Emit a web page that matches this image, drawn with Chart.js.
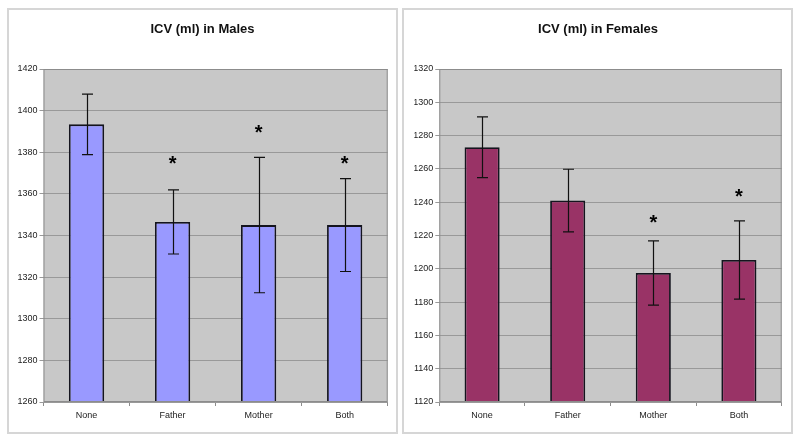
<!DOCTYPE html>
<html lang="en">
<head>
    <meta charset="UTF-8">
    <title>ICV (ml) by parent</title>
    <script src="https://cdn.jsdelivr.net/npm/chart.js"></script>
    <style>
        body { margin: 0; background: #fff; width: 800px; height: 442px; position: relative; overflow: hidden; }
        .panel { position: absolute; top: 8px; height: 426px; border: 2px solid #d6d6d6; box-sizing: border-box; background: #fff; }
        .wrap { position: absolute; top: 0; width: 400px; height: 442px; }
    </style>
</head>
<body>
    <div class="panel" style="left:7px; width:391px;"></div>
    <div class="panel" style="left:402px; width:391px;"></div>
    <div class="wrap" style="left:0;"><canvas id="malesChart"></canvas></div>
    <div class="wrap" style="left:400px;"><canvas id="femalesChart"></canvas></div>

    <script>
        const categories = ['None', 'Father', 'Mother', 'Both'];

        const malesMean = [1393.4, 1346.5, 1345, 1345];
        const malesErr = [14.5, 15.4, 32.5, 22.3];
        const malesStar = [null, 1375.9, 1390.7, 1375.9];
        const malesTicks = [1260, 1420];

        const femalesMean = [1273, 1241, 1197.5, 1205.3];
        const femalesErr = [18.2, 18.8, 19.3, 23.5];
        const femalesStar = [null, null, 1229.9, 1245.3];
        const femalesTicks = [1120, 1320];

        // grey plot area, like the spreadsheet default
        const plotBg = {
            id: 'plotBg',
            beforeDraw(chart) {
                const a = chart.chartArea, ctx = chart.ctx;
                ctx.save();
                ctx.fillStyle = '#c8c8c8';
                ctx.fillRect(a.left, a.top, a.right - a.left, a.bottom - a.top);
                ctx.restore();
            },
            afterDraw(chart) {
                const a = chart.chartArea, ctx = chart.ctx;
                ctx.save();
                ctx.strokeStyle = '#8c8c8c';
                ctx.lineWidth = 1;
                ctx.strokeRect(a.left + 0.5, a.top + 0.5, a.right - a.left - 1, a.bottom - a.top - 1);
                ctx.restore();
            }
        };

        // error bars and significance stars
        const errorBars = {
            id: 'errorBars',
            afterDatasetsDraw(chart, args, opts) {
                const ctx = chart.ctx;
                const y = chart.scales.y;
                const meta = chart.getDatasetMeta(0);
                ctx.save();
                ctx.strokeStyle = '#111';
                ctx.lineWidth = 1.2;
                meta.data.forEach((bar, i) => {
                    const m = opts.mean[i], e = opts.err[i];
                    const x = Math.round(bar.x) + 0.5;
                    const yt = y.getPixelForValue(m + e);
                    const yb = y.getPixelForValue(m - e);
                    ctx.beginPath();
                    ctx.moveTo(x, yt); ctx.lineTo(x, yb);
                    ctx.moveTo(x - 5.5, yt); ctx.lineTo(x + 5.5, yt);
                    ctx.moveTo(x - 5.5, yb); ctx.lineTo(x + 5.5, yb);
                    ctx.stroke();
                    if (opts.star[i] != null) {
                        ctx.fillStyle = '#000';
                        ctx.font = 'bold 20px "Liberation Sans", Arial, sans-serif';
                        ctx.textAlign = 'center';
                        ctx.textBaseline = 'middle';
                        ctx.fillText('*', bar.x, y.getPixelForValue(opts.star[i]) + 4);
                    }
                });
                ctx.restore();
            }
        };

        function makeChart(id, title, mean, err, star, ticks, fill, pad, yWidth) {
            return new Chart(document.getElementById(id), {
                type: 'bar',
                data: {
                    labels: categories,
                    datasets: [{
                        data: mean,
                        backgroundColor: fill,
                        borderColor: '#14141e',
                        borderWidth: 1.8,
                        categoryPercentage: 1,
                        barPercentage: 0.41
                    }]
                },
                options: {
                    responsive: true,
                    maintainAspectRatio: false,
                    animation: false,
                    layout: { padding: { left: pad.left, right: pad.right, top: 22, bottom: 8 } },
                    plugins: {
                        legend: { display: false },
                        tooltip: { enabled: false },
                        title: {
                            display: true,
                            text: title,
                            color: '#111',
                            font: { family: '"Liberation Sans", Arial, sans-serif', size: 13, weight: 'bold' },
                            padding: { top: 0, bottom: 31.4 }
                        },
                        errorBars: { mean: mean, err: err, star: star }
                    },
                    scales: {
                        x: {
                            offset: true,
                            grid: { display: true, offset: true, drawOnChartArea: false, color: '#8c8c8c', tickLength: 4 },
                            border: { display: false },
                            ticks: { color: '#222', padding: 4, font: { family: '"Liberation Sans", Arial, sans-serif', size: 9 } },
                            afterFit: s => { s.height = 32; }
                        },
                        y: {
                            min: ticks[0],
                            max: ticks[1],
                            grid: { color: '#999', tickLength: 4 },
                            border: { display: false },
                            ticks: {
                                stepSize: 20, color: '#222', padding: 2,
                                font: { family: '"Liberation Sans", Arial, sans-serif', size: 9 },
                                callback: v => String(v)
                            },
                            afterFit: s => { s.width = yWidth; }
                        }
                    }
                },
                plugins: [plotBg, errorBars]
            });
        }

        makeChart('malesChart', 'ICV (ml) in Males', malesMean, malesErr, malesStar, malesTicks,
            '#9999ff', { left: 17.3, right: 12.3 }, 26.2);
        makeChart('femalesChart', 'ICV (ml) in Females', femalesMean, femalesErr, femalesStar, femalesTicks,
            '#993366', { left: 14.3, right: 18.3 }, 25);
    </script>
</body>
</html>
